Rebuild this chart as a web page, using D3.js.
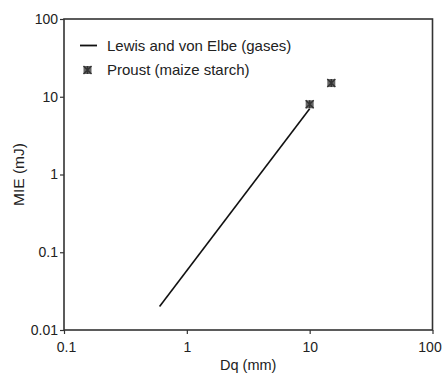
<!DOCTYPE html>
<html>
<head>
<meta charset="utf-8">
<script src="https://cdn.jsdelivr.net/npm/d3@7"></script>
<style>
  body { margin: 0; background: #fff; }
  text { font-family: "Liberation Sans", Arial, sans-serif; fill: #222; }
</style>
</head>
<body>
<script>
// line: Lewis and von Elbe (gases)
const lineDq = [0.6, 10];
const lineMIE = [0.02, 7];
// points: Proust (maize starch)
const pointDq = [10, 15];
const pointMIE = [8, 15];
const xTicks = [0.1, 1, 10, 100];
const yTicks = [0.01, 0.1, 1, 10, 100];
const legendLabels = ["Lewis and von Elbe (gases)", "Proust (maize starch)"];

const width = 442, height = 381;
const margin = {top: 19, right: 9.5, bottom: 51, left: 64};

const svg = d3.select("body").append("svg")
    .attr("width", width)
    .attr("height", height);

const x = d3.scaleLog().domain([0.1, 100]).range([margin.left, width - margin.right]);
const y = d3.scaleLog().domain([0.01, 100]).range([height - margin.bottom, margin.top]);

const fmt = d => String(d);

svg.append("g")
    .attr("transform", `translate(0,${height - margin.bottom})`)
    .call(d3.axisBottom(x).tickValues(xTicks).tickFormat(fmt).tickSize(4).tickPadding(8))
    .call(g => g.select(".domain").remove())
    .call(g => g.selectAll("line").attr("stroke", "#333").attr("stroke-width", 1.2))
    .call(g => g.selectAll("text").style("font-size", "14px").attr("fill", "#222"))
    .call(g => g.selectAll(".tick").filter(d => d === 100).select("text").attr("dx", -3))
    .call(g => g.selectAll(".tick").filter(d => d === 0.1).select("text").attr("dx", 2));

svg.append("g")
    .attr("transform", `translate(${margin.left},0)`)
    .call(d3.axisLeft(y).tickValues(yTicks).tickFormat(fmt).tickSize(4).tickPadding(2))
    .call(g => g.select(".domain").remove())
    .call(g => g.selectAll("line").attr("stroke", "#333").attr("stroke-width", 1.2))
    .call(g => g.selectAll("text").style("font-size", "14px").attr("fill", "#222"));

// frame
svg.append("rect")
    .attr("x", x(0.1))
    .attr("y", y(100))
    .attr("width", x(100) - x(0.1))
    .attr("height", y(0.01) - y(100))
    .attr("fill", "none")
    .attr("stroke", "#333")
    .attr("stroke-width", 1.6);

// line series
const lineData = lineDq.map((d, i) => [d, lineMIE[i]]);
svg.append("path")
    .datum(lineData)
    .attr("fill", "none")
    .attr("stroke", "#111")
    .attr("stroke-width", 1.6)
    .attr("d", d3.line().x(d => x(d[0])).y(d => y(d[1])));

function marker(g, cx, cy) {
    const s = 4;
    g.append("rect")
        .attr("x", cx - s).attr("y", cy - s)
        .attr("width", 2 * s).attr("height", 2 * s)
        .attr("fill", "#666");
    g.append("path")
        .attr("d", `M${cx - s},${cy - s}L${cx + s},${cy + s}M${cx + s},${cy - s}L${cx - s},${cy + s}M${cx},${cy - s}L${cx},${cy + s}`)
        .attr("stroke", "#333")
        .attr("stroke-width", 1.4);
}

const pts = svg.append("g");
pointDq.forEach((d, i) => marker(pts, x(d), y(pointMIE[i])));

// legend
const leg = svg.append("g");
leg.append("line")
    .attr("x1", 80).attr("x2", 97)
    .attr("y1", 45.5).attr("y2", 45.5)
    .attr("stroke", "#111").attr("stroke-width", 1.8);
leg.append("text").attr("x", 107).attr("y", 50.5)
    .style("font-size", "15px").text(legendLabels[0]);
marker(leg, 87.5, 70);
leg.append("text").attr("x", 107).attr("y", 74.5)
    .style("font-size", "15px").text(legendLabels[1]);

// axis titles
svg.append("text")
    .attr("x", (x(0.1) + x(100)) / 2)
    .attr("y", 369.5)
    .attr("text-anchor", "middle")
    .style("font-size", "14.5px")
    .text("Dq (mm)");

svg.append("text")
    .attr("transform", `translate(23.5,${(y(0.01) + y(100)) / 2}) rotate(-90)`)
    .attr("text-anchor", "middle")
    .style("font-size", "15.5px")
    .text("MIE (mJ)");
</script>
</body>
</html>
